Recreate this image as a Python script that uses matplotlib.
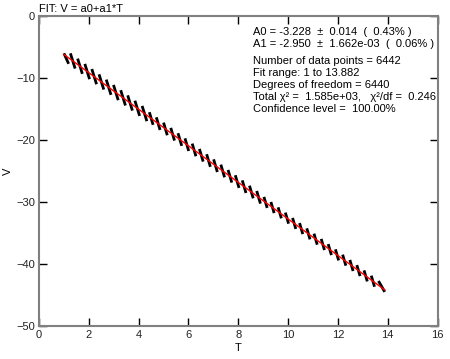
import matplotlib.pyplot as plt

plt.rcParams['font.family'] = ['Liberation Sans', 'DejaVu Sans']

# sawtooth strokes: start (T0, V0) -> end (T1, V1)
t0 = [1.00, 1.26, 1.55, 1.84, 2.12, 2.41, 2.70, 2.99, 3.28, 3.56, 3.85, 4.14,
      4.43, 4.71, 5.00, 5.29, 5.58, 5.86, 6.15, 6.44, 6.73, 7.01, 7.30, 7.59,
      7.88, 8.16, 8.45, 8.74, 9.03, 9.31, 9.60, 9.89, 10.18, 10.46, 10.75, 11.04,
      11.33, 11.61, 11.90, 12.19, 12.48, 12.76, 13.05, 13.34, 13.63]
v0 = [-6.00, -6.00, -6.85, -7.71, -8.53, -9.39, -10.24, -11.10, -11.95, -12.78, -13.64, -14.49,
      -15.50, -16.32, -17.18, -18.03, -18.89, -19.72, -20.57, -21.43, -22.28, -23.11, -23.96, -24.82,
      -25.67, -26.50, -27.36, -28.21, -29.17, -29.99, -30.85, -31.70, -32.56, -33.39, -34.24, -35.10,
      -35.95, -36.78, -37.63, -38.49, -39.34, -40.17, -41.03, -41.88, -42.74]
t1 = [1.19, 1.45, 1.74, 2.03, 2.31, 2.60, 2.89, 3.18, 3.47, 3.75, 4.04, 4.33,
      4.58, 4.86, 5.15, 5.44, 5.73, 6.01, 6.30, 6.59, 6.88, 7.16, 7.45, 7.74,
      8.03, 8.31, 8.60, 8.89, 9.16, 9.44, 9.73, 10.02, 10.31, 10.59, 10.88, 11.17,
      11.46, 11.74, 12.03, 12.32, 12.61, 12.89, 13.18, 13.47, 13.88]
v1 = [-7.69, -8.46, -9.31, -10.17, -10.99, -11.85, -12.70, -13.56, -14.42, -15.24, -16.10, -16.95,
      -17.54, -18.37, -19.22, -20.08, -20.93, -21.76, -22.61, -23.47, -24.32, -25.15, -26.01, -26.86,
      -27.72, -28.54, -29.40, -30.25, -30.95, -31.78, -32.63, -33.49, -34.34, -35.17, -36.02, -36.88,
      -37.74, -38.56, -39.42, -40.27, -41.13, -41.95, -42.81, -43.67, -44.50]

# fitted line endpoints (V = a0 + a1*T over the fit range)
fit_t = [1.0, 13.882]
fit_v = [-6.178, -44.179]

fit_lines = [
    "A0 = -3.228  \u00b1  0.014  (  0.43% )",
    "A1 = -2.950  \u00b1  1.662e-03  (  0.06% )",
    None,
    "Number of data points = 6442",
    "Fit range: 1 to 13.882",
    "Degrees of freedom = 6440",
    "Total \u03c7\u00b2 =  1.585e+03,   \u03c7\u00b2/df =  0.246",
    "Confidence level =  100.00%",
]

fig = plt.figure(figsize=(4.5, 3.59), dpi=100)
ax = fig.add_axes([0.0867, 0.092, 0.8856, 0.863])

for a, b, c, d in zip(t0, v0, t1, v1):
    ax.plot([a, c], [b, d], color="black", lw=2.0, solid_capstyle="butt")

ax.plot(fit_t, fit_v, color="red", lw=1)

ax.set_xlim(0, 16)
ax.set_ylim(-50, 0)
ax.set_xticks(range(0, 17, 2))
ax.set_yticks(range(-50, 1, 10))
ax.tick_params(direction="in", length=6, width=1, top=True, right=True,
               labelsize=8, pad=3, colors="black", labelcolor="#222222")
for s in ax.spines.values():
    s.set_color("#808080")
    s.set_linewidth(1.5)

ax.set_xlabel("T", fontsize=8, labelpad=2)
ax.set_ylabel("V", fontsize=8, labelpad=2)
fig.text(0.0867, 0.962, "FIT: V = a0+a1*T", fontsize=8, ha="left", va="bottom")

y = 0.912
for line in fit_lines:
    if line is None:
        y -= 0.016
        continue
    fig.text(0.562, y, line, fontsize=8, ha="left", va="center")
    y -= 0.0335

fig.savefig("out.png", dpi=100)
